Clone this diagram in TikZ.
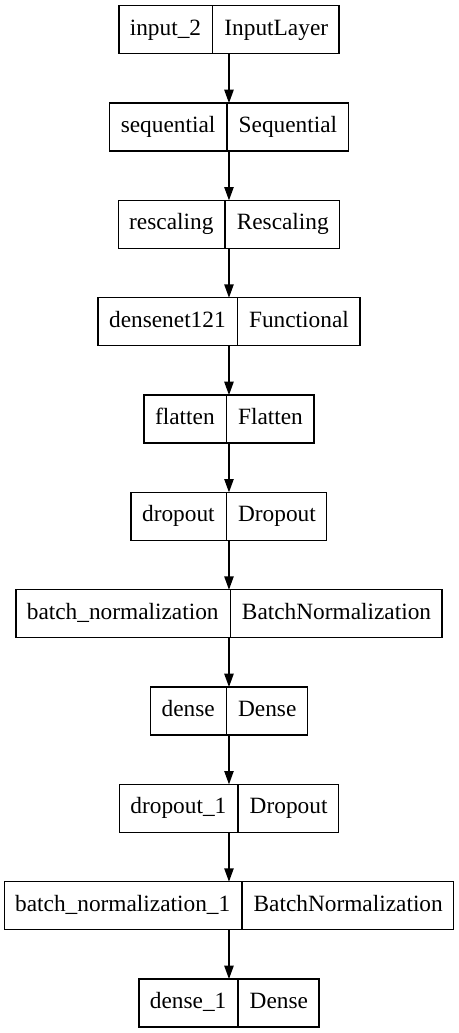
\documentclass[tikz,border=0pt]{standalone}
\usepackage{fontspec}
\setmainfont{Liberation Serif}
\usetikzlibrary{arrows.meta,shapes.multipart,positioning}

\begin{document}
\begin{tikzpicture}[-{Triangle[length=10pt,width=7pt]},line width=1pt,node distance=37pt,
	layer/.style={draw,rectangle split,rectangle split horizontal,rectangle split parts=2,
		rectangle split part align=base,
		inner xsep=8.25pt,inner ysep=7.5pt,outer sep=0pt,
		font=\fontsize{17.5}{21}\selectfont\strut}]
		\useasboundingbox (-171.75pt,22.3pt) rectangle (172.5pt,-752.5pt);
		\node[layer] (input) at (0,0) {input\_2 \nodepart{two} InputLayer};
		\node[layer] (seq) [below=of input] {sequential \nodepart{two} Sequential};
		\node[layer] (resc) [below=of seq] {rescaling \nodepart{two} Rescaling};
		\node[layer] (dnet) [below=of resc] {densenet121 \nodepart{two} Functional};
		\node[layer] (flat) [below=of dnet] {flatten \nodepart{two} Flatten};
		\node[layer] (drop) [below=of flat] {dropout \nodepart{two} Dropout};
		\node[layer] (bn) [below=of drop] {batch\_normalization \nodepart{two} BatchNormalization};
		\node[layer] (dense) [below=of bn] {dense \nodepart{two} Dense};
		\node[layer] (dropa) [below=of dense] {dropout\_1 \nodepart{two} Dropout};
		\node[layer] (bna) [below=of dropa] {batch\_normalization\_1 \nodepart{two} BatchNormalization};
		\node[layer] (densea) [below=of bna] {dense\_1 \nodepart{two} Dense};
		\path
			(input) edge (seq)
			(seq) edge (resc)
			(resc) edge (dnet)
			(dnet) edge (flat)
			(flat) edge (drop)
			(drop) edge (bn)
			(bn) edge (dense)
			(dense) edge (dropa)
			(dropa) edge (bna)
			(bna) edge (densea);
\end{tikzpicture}
\end{document}
